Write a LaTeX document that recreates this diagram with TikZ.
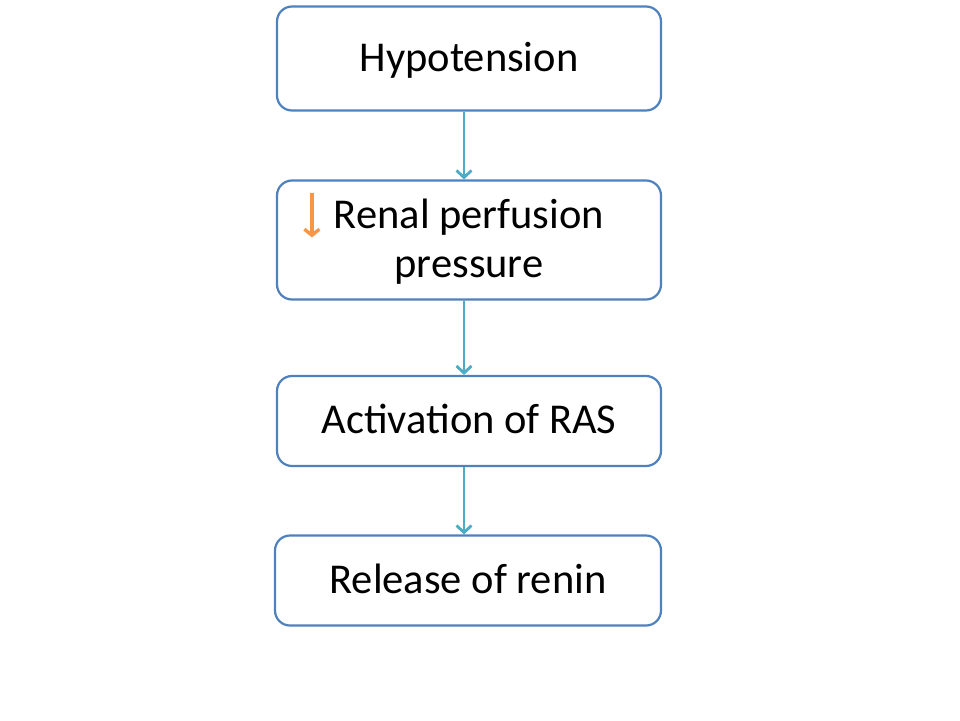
\documentclass[tikz,border=0pt]{standalone}
\usepackage{fontspec}
\setmainfont{Carlito}
\usetikzlibrary{arrows.meta,calc}
\definecolor{boxblue}{HTML}{4F81BD}
\definecolor{linkteal}{HTML}{4BACC6}
\definecolor{downorange}{HTML}{F79646}
\begin{document}
\begin{tikzpicture}[x=1pt,y=-1pt,
  stepbox/.style={draw=boxblue,line width=2.2pt,rounded corners=15pt,fill=white,
    minimum width=384pt,inner sep=0pt,font=\fontsize{42.5}{49}\selectfont,align=center,text depth=0pt},
  onebox/.style={stepbox,text height=25pt},
  link/.style={draw=linkteal,line width=2.8pt,-{Straight Barb[length=7pt,width=15pt,line width=2.8pt]}}]
\useasboundingbox[fill=white] (0,0) rectangle (960,720);
\node[onebox,minimum height=104pt,text height=26pt] (b1) at (469,58.5) {Hypotension};
\node[stepbox,minimum height=119pt,text height=74pt] (b2) at (469,240) {Renal perfusion\\pressure};
\node[onebox,minimum height=90pt] (b3) at (469,421) {Activation of RAS};
\node[onebox,minimum height=90pt,minimum width=386pt] (b4) at (468,580.5) {Release of renin};
\coordinate (a1s) at (464,0 |- b1.south);
\coordinate (a1e) at (464,0 |- b2.north);
\coordinate (a2s) at (464,0 |- b2.south);
\coordinate (a2e) at (464,0 |- b3.north);
\coordinate (a3s) at (464,0 |- b3.south);
\coordinate (a3e) at (464,0 |- b4.north);
\draw[link] (a1s) -- (a1e);
\draw[link] (a2s) -- (a2e);
\draw[link] (a3s) -- (a3e);
\draw[downorange,line width=3.6pt,-{Straight Barb[length=6pt,width=15pt,line width=3.4pt]}]
  ($(b2.north west)+(36,14)$) -- ($(b2.north west)+(36,58)$);
\end{tikzpicture}
\end{document}
